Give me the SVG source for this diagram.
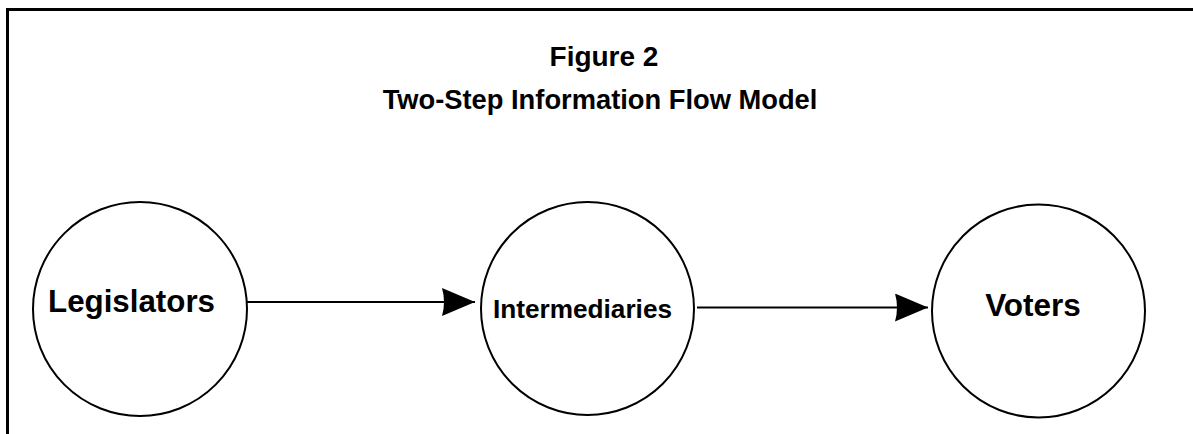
<svg xmlns="http://www.w3.org/2000/svg" width="1193" height="434" viewBox="0 0 1193 434">
<style>
.t{font-family:"Liberation Sans",Arial,sans-serif;font-weight:bold;fill:#000;text-anchor:middle}
.c{fill:#fff;stroke:#000;stroke-width:2}
.l{stroke:#000;stroke-width:1.8;fill:none}
</style>
<defs>
<marker id="ah" markerUnits="userSpaceOnUse" markerWidth="34" markerHeight="28" refX="33" refY="14" orient="auto">
<path d="M0,0 L33,14 L0,28 Q4,14 0,0 Z" fill="#000"/>
</marker>
</defs>
<rect width="1193" height="434" fill="#fff"/>
<path d="M7.5,434 V9.5 H1193" fill="none" stroke="#000" stroke-width="3"/>
<text class="t" x="604" y="66" font-size="28">Figure 2</text>
<text class="t" x="600" y="109" font-size="27.3">Two-Step Information Flow Model</text>
<g id="connectors">
<line class="l" x1="247" y1="302" x2="475" y2="302" marker-end="url(#ah)"/>
<line class="l" x1="697" y1="307.5" x2="928" y2="307.5" marker-end="url(#ah)"/>
</g>
<g id="legislators">
<circle class="c" cx="140" cy="309" r="107"/>
<text class="t" x="131.5" y="312" font-size="31.3">Legislators</text>
</g>
<g id="intermediaries">
<circle class="c" cx="587.5" cy="308.5" r="106.5"/>
<text class="t" x="582.5" y="318" font-size="26.2">Intermediaries</text>
</g>
<g id="voters">
<circle class="c" cx="1038.5" cy="311" r="106.5"/>
<text class="t" x="1033" y="316" font-size="31.5">Voters</text>
</g>
</svg>
